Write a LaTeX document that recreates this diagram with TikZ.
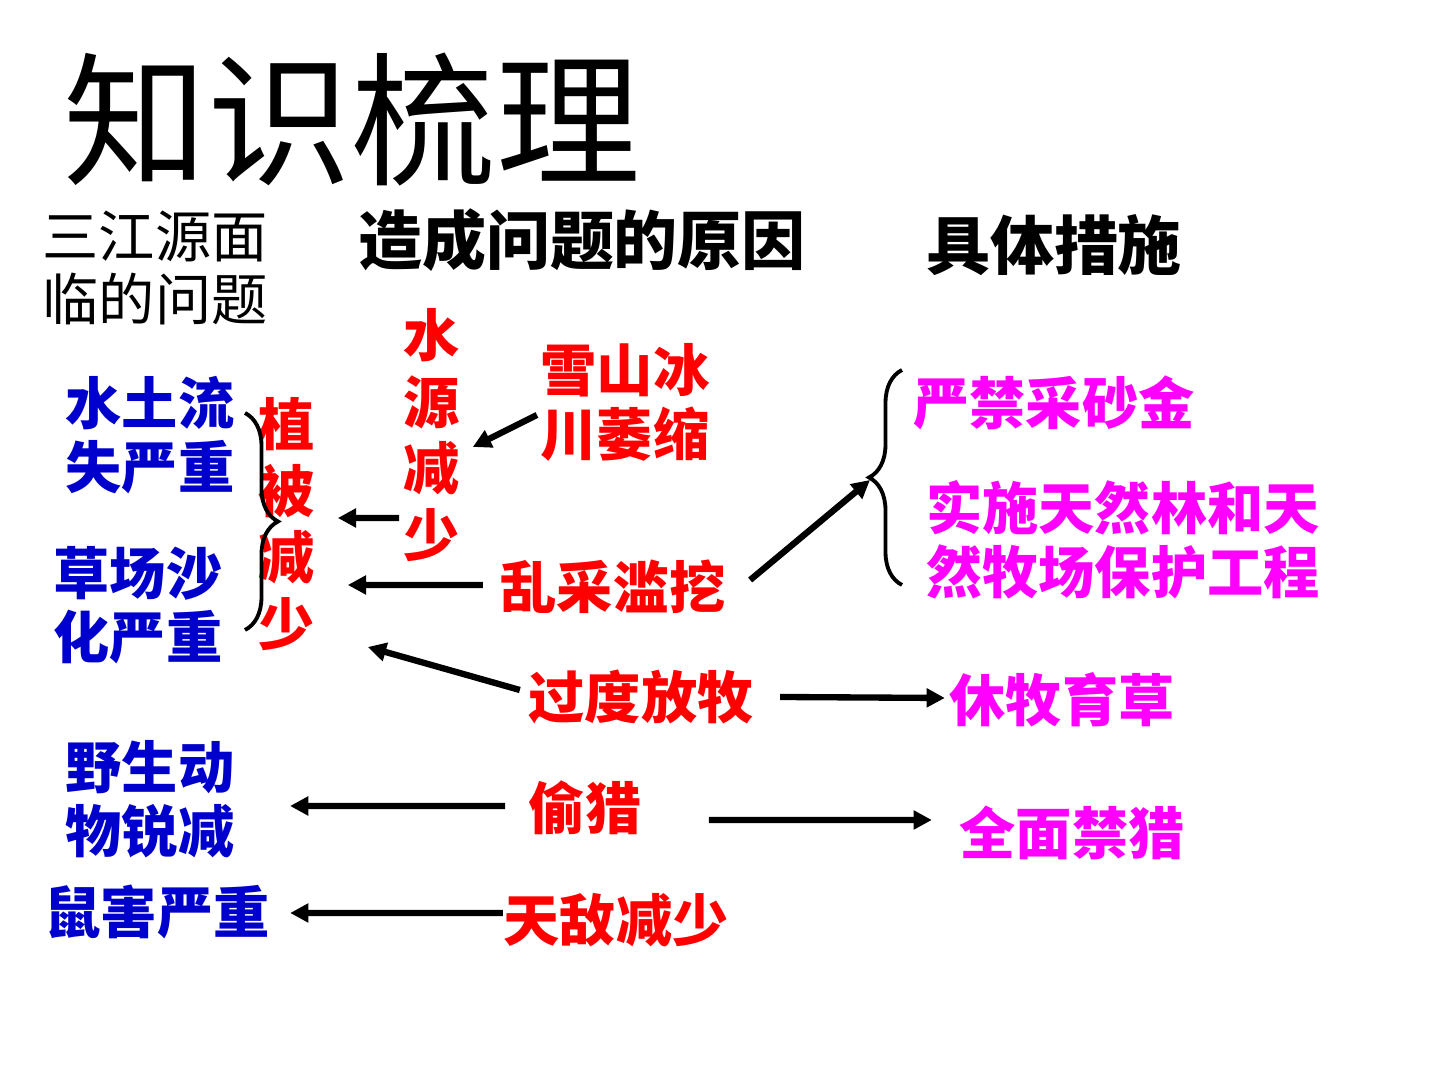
\documentclass[tikz,border=0pt]{standalone}
\usepackage{fontspec}
\setmainfont{Noto Sans CJK SC}
\usetikzlibrary{arrows.meta,decorations.pathreplacing}
\definecolor{problemc}{RGB}{0,0,204}
\definecolor{causec}{RGB}{255,0,0}
\definecolor{measurec}{RGB}{255,0,255}
\tikzset{
  basenode/.style={inner sep=0pt, align=center, font=\fontsize{16pt}{18.2pt}\selectfont\bfseries},
  problemnode/.style={basenode, text=problemc},
  causenode/.style={basenode, text=causec},
  vertnode/.style={causenode, font=\fontsize{16pt}{19pt}\selectfont\bfseries},
  measurenode/.style={basenode, text=measurec},
  headnode/.style={inner sep=0pt, align=center, font=\fontsize{18.2pt}{22pt}\selectfont\bfseries},
  arrowline/.style={-{Triangle[length=5.2pt,width=5.2pt]}, line width=1.8pt},
  bracestroke/.style={decorate, line width=1.1pt},
}
\begin{document}
\begin{tikzpicture}
  \useasboundingbox[fill=white] (0,0) rectangle (14.4,10.8);
  \node[inner sep=0pt, font=\fontsize{41pt}{45pt}\selectfont] (title) at (3.52,9.60) {知识梳理};
  \node[inner sep=0pt, align=left, font=\fontsize{16pt}{17.9pt}\selectfont] (h1) at (1.55,8.12) {三江源面\\临的问题};
  \node[headnode] (h2) at (5.82,8.40) {造成问题的原因};
  \node[headnode] (h3) at (10.54,8.35) {具体措施};

  \node[problemnode] (q1) at (1.50,6.45) {水土流\\失严重};
  \node[problemnode] (q2) at (1.38,4.75) {草场沙\\化严重};
  \node[problemnode] (q3) at (1.50,2.81) {野生动\\物锐减};
  \node[problemnode] (q4) at (1.57,1.68) {鼠害严重};

  \node[vertnode] (vege) at (2.87,5.56) {植\\被\\减\\少};
  \node[vertnode] (water) at (4.32,6.45) {水\\源\\减\\少};
  \node[causenode] (snow) at (6.25,6.78) {雪山冰\\川萎缩};
  \node[causenode] (dig) at (6.13,4.93) {乱采滥挖};
  \node[causenode] (graze) at (6.41,3.83) {过度放牧};
  \node[causenode] (poach) at (5.85,2.72) {偷猎};
  \node[causenode] (enemy) at (6.16,1.60) {天敌减少};

  \node[measurenode] (m1) at (10.54,6.77) {严禁采砂金};
  \node[measurenode] (m2) at (11.23,5.40) {实施天然林和天\\然牧场保护工程};
  \node[measurenode] (m3) at (10.62,3.80) {休牧育草};
  \node[measurenode] (m4) at (10.72,2.47) {全面禁猎};

  \coordinate (vegeTop) at (2.45,6.67);
  \coordinate (vegeBot) at (2.45,4.50);
  \coordinate (measTop) at (9.02,7.10);
  \coordinate (measBot) at (9.02,4.95);
  \coordinate (measTip) at (8.70,6.00);
  \draw[bracestroke, decoration={brace, amplitude=0.33cm}] (vegeTop) -- (vegeBot);
  \draw[bracestroke, decoration={brace, amplitude=0.33cm}] (measBot) -- (measTop);

  \draw[arrowline] ([shift={(-0.03,-0.13)}]snow.west) -- ([shift={(0.12,-0.12)}]water.east);
  \draw[arrowline] ([shift={(-0.04,-0.83)}]water.west) -- ([shift={(0.22,0.06)}]vege.east);
  \draw[arrowline] ([shift={(-0.17,0.02)}]dig.west) -- ([shift={(0.32,-0.61)}]vege.east);
  \draw[arrowline] ([shift={(-0.08,0.07)}]graze.west) -- ([shift={(0.52,-1.23)}]vege.east);
  \draw[arrowline] ([shift={(0.24,0.07)}]dig.east) -- (measTip);
  \draw[arrowline] ([shift={(0.26,0)}]graze.east) -- ([shift={(-0.04,0.02)}]m3.west);
  \draw[arrowline] ([shift={(-0.23,0.02)}]poach.west) -- ([shift={(0.55,-0.07)}]q3.east);
  \draw[arrowline] ([shift={(0.67,-0.12)}]poach.east) -- ([shift={(-0.27,0.13)}]m4.west);
  \draw[arrowline] ([shift={(0,0.07)}]enemy.west) -- ([shift={(0.20,-0.01)}]q4.east);
\end{tikzpicture}
\end{document}
